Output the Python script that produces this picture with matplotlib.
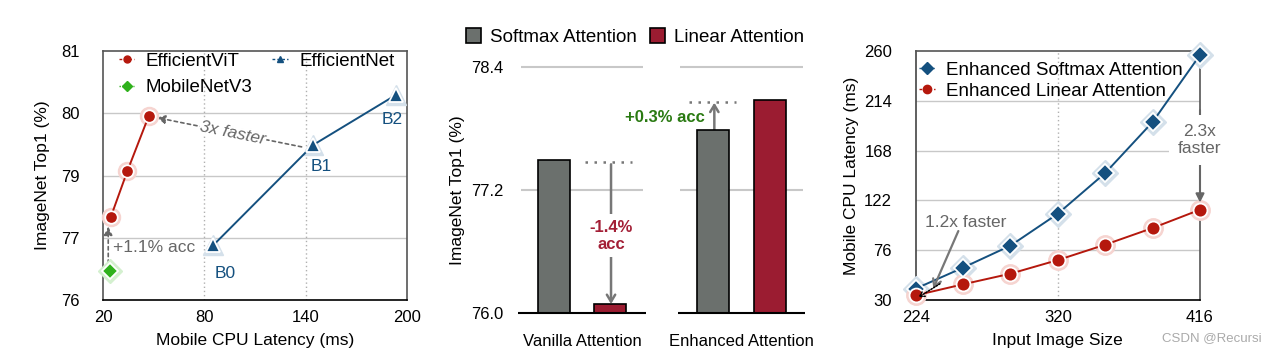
import matplotlib
matplotlib.use("Agg")
import matplotlib.pyplot as plt
from matplotlib.lines import Line2D
from matplotlib.patches import Patch

plt.rcParams['font.family'] = ['Liberation Sans', 'DejaVu Sans']

# ---------------- data ----------------
# Panel 1 (y in evenly spaced tick positions; labels as printed)
p1_yticks = [76, 77, 78, 79, 80]
p1_yticklabels = ['76', '77', '79', '80', '81']
p1_xticks = [20, 80, 140, 200]
vit_lat = [24.7, 34.4, 47.0]
vit_acc = [77.34, 78.07, 78.95]
effnet_lat = [85.3, 144.4, 193.2]
effnet_acc = [76.88, 78.49, 79.29]
effnet_names = ['B0', 'B1', 'B2']
mbv3_lat = [24.0]
mbv3_acc = [76.47]

# Panel 2
groups = ['Vanilla Attention', 'Enhanced Attention']
softmax_acc = [77.49, 77.78]
linear_acc = [76.09, 78.08]
p2_yticks = [76.0, 77.2, 78.4]

# Panel 3
img_size = [224, 256, 288, 320, 352, 384, 416]
softmax_lat = [40.5, 59.9, 80.2, 109.7, 147.3, 194.4, 256.3]
linear_lat = [34.3, 44.5, 54.3, 66.9, 81.1, 96.5, 113.4]
p3_yticks = [30, 76, 122, 168, 214, 260]
p3_xticks = [224, 320, 416]

RED = '#b5180d'
BLUE = '#14507f'
GREEN = '#2fb11c'
GRAY_BAR = '#6b706d'
RED_BAR = '#9b1c31'
GRID = '#c8c8c8'
ANN = '#666666'

fig = plt.figure(figsize=(12.76, 3.52), dpi=100)
W, H = 1276, 352


def axes_px(l, r, t, b):
    return fig.add_axes([l / W, (H - b) / H, (r - l) / W, (b - t) / H])


def halo_plot(ax, x, y, color, marker, ms, halo, ls='-'):
    ax.plot(x, y, ls='none', marker=marker, ms=ms + 4, mfc=halo, mec=halo,
            zorder=3, clip_on=False)
    ax.plot(x, y, color=color, lw=1.4, ls=ls, marker=marker, ms=ms, mfc=color,
            mec='white', mew=1.3, zorder=4, clip_on=False)


# ---------------- Panel 1 ----------------
ax1 = axes_px(103, 407, 51, 300)
ax1.set_xlim(20, 200)
ax1.set_ylim(76, 80)
ax1.set_xticks(p1_xticks)
ax1.set_yticks(p1_yticks)
ax1.set_yticklabels(p1_yticklabels)
ax1.tick_params(length=0, labelsize=12, pad=7)
ax1.tick_params(axis='y', pad=17)
for y in [77, 78, 79]:
    ax1.axhline(y, color=GRID, lw=1, zorder=0)
for x in [80, 140]:
    ax1.axvline(x, color='#b0b0b0', lw=1, ls=(0, (1, 2)), zorder=0)
for s in ax1.spines.values():
    s.set_color('#555555')
    s.set_linewidth(1.2)
ax1.spines['bottom'].set_color('black')

halo_plot(ax1, vit_lat, vit_acc, RED, 'o', 9, '#f6d4d0')
halo_plot(ax1, effnet_lat, effnet_acc, BLUE, '^', 10, '#d4e0ea')
halo_plot(ax1, mbv3_lat, mbv3_acc, GREEN, 'D', 8, '#d4f0cf')

name_pos = [(92.6, 76.42), (149.4, 78.14), (191.2, 78.9)]
for n, (x, y) in zip(effnet_names, name_pos):
    ax1.text(x, y, n, color=BLUE, fontsize=12.5, ha='center', va='center')

ax1.annotate('', xy=(51.8, 78.93), xytext=(137.6, 78.46),
             arrowprops=dict(arrowstyle='-|>,head_length=0.5,head_width=0.25',
                             color=ANN, lw=1.2, ls=(0, (2, 2)),
                             shrinkA=0, shrinkB=0), zorder=2)
ax1.text(96.9, 78.68, '3x faster', style='italic', color=ANN, fontsize=12.5,
         ha='center', va='center', rotation=-11.5, rotation_mode='anchor',
         bbox=dict(fc='white', ec='none', pad=0.5), zorder=2.5)
ax1.annotate('', xy=(23.1, 77.18), xytext=(23.1, 76.59),
             arrowprops=dict(arrowstyle='-|>,head_length=0.5,head_width=0.25',
                             color=ANN, lw=1.2, ls=(0, (2, 2)),
                             shrinkA=0, shrinkB=0), zorder=2)
ax1.text(26.1, 76.85, '+1.1% acc', color=ANN, fontsize=12.5, ha='left',
         va='center')

ax1.set_xlabel('Mobile CPU Latency (ms)', fontsize=12.5, labelpad=6)
ax1.set_ylabel('ImageNet Top1 (%)', fontsize=12.5, labelpad=8)

h1 = [Line2D([], [], color=RED, ls=(0, (2, 1.5)), lw=1, marker='o', ms=5),
      Line2D([], [], color=GREEN, ls=(0, (1, 1)), lw=1, marker='D', ms=5),
      Line2D([], [], color=BLUE, ls=(0, (2, 1.5)), lw=1, marker='^', ms=5)]
ax1.legend(h1, ['EfficientViT', 'MobileNetV3', 'EfficientNet'], ncol=2,
           loc='upper left', bbox_to_anchor=(0.045, 1.0), frameon=False,
           fontsize=13.5, handlelength=0.85, handletextpad=0.6,
           columnspacing=1.05, labelspacing=0.5, borderpad=0.1,
           borderaxespad=0)

# ---------------- Panel 2 ----------------
ax2 = axes_px(520, 806, 66.7, 313.3)
ax2.set_xlim(-0.389, 1.405)
ax2.set_ylim(76.0, 78.4)
for s in ax2.spines.values():
    s.set_visible(False)
gx = [0, 1]
off = 0.178
bw = 0.2
ax2.bar([g - off for g in gx], softmax_acc, width=bw, color=GRAY_BAR,
        edgecolor='black', lw=1.2, zorder=3)
ax2.bar([g + off for g in gx], linear_acc, width=bw, color=RED_BAR,
        edgecolor='black', lw=1.2, zorder=3)
for g in gx:
    ax2.hlines([77.2, 78.4], g - 0.385, g + 0.385, color=GRID, lw=1.5,
               zorder=0, clip_on=False)
    ax2.hlines(76.0, g - 0.4, g + 0.4, color='black', lw=1.5, zorder=4,
               clip_on=False)
ax2.set_xticks(gx)
ax2.set_xticklabels(groups)
ax2.set_yticks(p2_yticks)
ax2.set_yticklabels(['%.1f' % v for v in p2_yticks])
ax2.tick_params(length=0, labelsize=12)
ax2.tick_params(axis='x', pad=15)
ax2.tick_params(axis='y', pad=12)
ax2.set_ylabel('ImageNet Top1 (%)', fontsize=12.5, labelpad=4)

# vanilla annotation
ax2.hlines(softmax_acc[0] - 0.02, 0.02, 0.315, color='#777777', lw=1.8,
           ls=(0, (1, 2.6)), zorder=2)
ax2.annotate('', xy=(0.182, linear_acc[0]), xytext=(0.182, softmax_acc[0] - 0.04),
             arrowprops=dict(arrowstyle='->,head_length=0.5,head_width=0.3',
                             color='#777777', lw=1.8, shrinkA=0, shrinkB=0),
             zorder=2)
ax2.text(0.182, 76.755, '-1.4%\nacc', color='#a31f36', fontsize=12,
         fontweight='bold', ha='center', va='center', linespacing=1.15,
         bbox=dict(fc='white', ec='none', pad=4), zorder=2.5)
# enhanced annotation
ax2.hlines(78.06, 1 - 0.326, 1 - 0.033, color='#777777', lw=1.8,
           ls=(0, (1, 2.6)), zorder=2)
ax2.annotate('', xy=(1 - 0.17, 78.05), xytext=(1 - 0.17, softmax_acc[1]),
             arrowprops=dict(arrowstyle='->,head_length=0.5,head_width=0.3',
                             color='#777777', lw=1.8, shrinkA=0, shrinkB=0),
             zorder=2)
ax2.text(1 - 0.228, 77.91, '+0.3% acc', color='#2a7a12', fontsize=12,
         fontweight='bold', ha='right', va='center')

h2 = [Patch(fc=GRAY_BAR, ec='black', lw=1.2), Patch(fc=RED_BAR, ec='black', lw=1.2)]
ax2.legend(h2, ['Softmax Attention', 'Linear Attention'], ncol=2,
           loc='center left', bbox_to_anchor=(-0.19, 1.12), frameon=False,
           fontsize=13.5, handlelength=0.8, handleheight=0.8,
           handletextpad=0.5, columnspacing=0.7, borderpad=0, borderaxespad=0)

# ---------------- Panel 3 ----------------
ax3 = axes_px(915.7, 1200, 51, 300)
ax3.set_xlim(224, 416)
ax3.set_ylim(30, 260)
ax3.set_xticks(p3_xticks)
ax3.set_yticks(p3_yticks)
ax3.tick_params(length=0, labelsize=12, pad=7)
ax3.tick_params(axis='y', pad=17)
for y in [76, 122, 168, 214]:
    ax3.axhline(y, color=GRID, lw=1, zorder=0)
ax3.axvline(320, color='#b0b0b0', lw=1, ls=(0, (1, 2)), zorder=0)
for s in ax3.spines.values():
    s.set_color('#555555')
    s.set_linewidth(1.2)
ax3.spines['bottom'].set_color('black')
ax3.spines['left'].set_color('#444444')

halo_plot(ax3, img_size, softmax_lat, BLUE, 'D', 9, '#d4e0ea')
halo_plot(ax3, img_size, linear_lat, RED, 'o', 10, '#f6d4d0')

# 2.3x faster
ax3.annotate('', xy=(416, 120), xytext=(416, 205.5),
             arrowprops=dict(arrowstyle='-|>,head_length=0.5,head_width=0.25',
                             color='#666666', lw=1.5, shrinkA=0, shrinkB=0),
             zorder=5, annotation_clip=False)
ax3.text(416, 177.8, '2.3x\nfaster', color=ANN, fontsize=12.5, ha='center',
         va='center', linespacing=1.1, clip_on=False,
         bbox=dict(fc='white', ec='none', pad=7), zorder=6)
# 1.2x faster
ax3.annotate('', xy=(235.9, 40.8), xytext=(252.8, 93.7),
             arrowprops=dict(arrowstyle='->,head_length=0.5,head_width=0.3',
                             color='#777777', lw=1.6, shrinkA=0, shrinkB=0),
             zorder=5)
ax3.text(230.3, 101.8, '1.2x faster', color=ANN, fontsize=12.5, ha='left',
         va='center', zorder=6)
ax3.annotate('', xy=(225.8, 32.5), xytext=(240.4, 45.0),
             arrowprops=dict(arrowstyle='->,head_length=0.35,head_width=0.2',
                             color='black', lw=1.1, ls=(0, (1, 1)),
                             shrinkA=0, shrinkB=0), zorder=6)

ax3.set_xlabel('Input Image Size', fontsize=12.5, labelpad=6)
ax3.set_ylabel('Mobile CPU Latency (ms)', fontsize=12.5, labelpad=4)

h3 = [Line2D([], [], color=BLUE, ls=(0, (1, 1)), lw=1, marker='D', ms=6),
      Line2D([], [], color=RED, ls=(0, (2, 1.5)), lw=1, marker='o', ms=6)]
ax3.legend(h3, ['Enhanced Softmax Attention', 'Enhanced Linear Attention'],
           loc='upper left', bbox_to_anchor=(0.005, 0.965), frameon=False,
           fontsize=13.5, handlelength=0.85, handletextpad=0.6,
           labelspacing=0.22, borderpad=0.1, borderaxespad=0)

fig.text(1262 / W, (H - 338) / H, 'CSDN @Recursi', color='#aaaaaa',
         fontsize=9.5, ha='right', va='center')

fig.savefig('out.png', dpi=100)
